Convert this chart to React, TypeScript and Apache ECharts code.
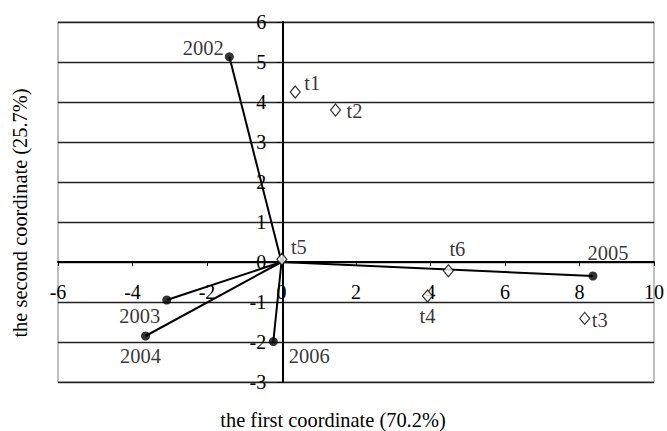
import React, { useEffect, useRef } from "react";
import * as echarts from "echarts";

const years = ["2002", "2003", "2004", "2005", "2006"];
const yearX = [-1.4, -3.08, -3.65, 8.36, -0.22];
const yearY = [5.13, -0.95, -1.85, -0.35, -1.99];
const yearLabelOffsets = [
  [-26, -9],
  [-27, 16],
  [-5, 20],
  [15, -23],
  [36, 14],
];

const terms = ["t1", "t2", "t3", "t4", "t5", "t6"];
const termX = [0.37, 1.45, 8.14, 3.92, 0.01, 4.48];
const termY = [4.25, 3.8, -1.41, -0.85, 0.07, -0.22];
const termLabelOffsets = [
  [17, -9],
  [19, 1],
  [15, 2],
  [0, 20],
  [17, -12],
  [9, -22],
];

const origin = [0, 0];
const xTicks = { min: -6, max: 10, interval: 2 };
const yTicks = { min: -3, max: 6, interval: 1 };
const xTitle = "the first coordinate (70.2%)";
const yTitle = "the second coordinate (25.7%)";

const FONT = "Liberation Serif";
const W = 667;
const H = 431;
const GRID = { left: 58, right: 11, top: 22, bottom: 49 };

export default function App() {
  const ref = useRef<HTMLDivElement>(null);
  useEffect(() => {
    if (!ref.current) return;
    const chart = echarts.init(ref.current, null, { renderer: "svg" });
    const plotW = W - GRID.left - GRID.right;
    const plotH = H - GRID.top - GRID.bottom;
    // shift axes so they sit on the zero of the other axis
    const yAxisOffset = -((0 - xTicks.min) / (xTicks.max - xTicks.min)) * plotW;
    const xAxisOffset = -((0 - yTicks.min) / (yTicks.max - yTicks.min)) * plotH;
    const lineSeries = years.map((y, i) => ({
      type: "line",
      name: y,
      data: [origin, [yearX[i], yearY[i]]],
      symbol: "none",
      lineStyle: { color: "#000", width: 2 },
      z: 3,
      silent: true,
    }));
    chart.setOption({
      animation: false,
      textStyle: { fontFamily: FONT },
      grid: {
        ...GRID,
        show: true,
        borderColor: "#808080",
        borderWidth: 1,
      },
      xAxis: {
        type: "value",
        position: "bottom",
        offset: xAxisOffset,
        min: xTicks.min,
        max: xTicks.max,
        interval: xTicks.interval,
        axisLine: { onZero: false, lineStyle: { color: "#000", width: 2 } },
        axisTick: { show: true, inside: false, length: 4, lineStyle: { color: "#000", width: 1 } },
        axisLabel: { margin: 20, fontSize: 20, color: "#000", fontFamily: FONT },
        splitLine: { show: false },
      },
      yAxis: {
        type: "value",
        position: "left",
        offset: yAxisOffset,
        min: yTicks.min,
        max: yTicks.max,
        interval: yTicks.interval,
        axisLine: { onZero: false, lineStyle: { color: "#000", width: 2 } },
        axisTick: { show: true, length: 5, lineStyle: { color: "#000", width: 1 } },
        axisLabel: { margin: 16, fontSize: 20, color: "#000", fontFamily: FONT },
        splitLine: { show: true, lineStyle: { color: "#222", width: 1.3 } },
      },
      graphic: [
        {
          type: "text",
          x: 333,
          y: 420,
          style: {
            text: xTitle,
            align: "center",
            verticalAlign: "middle",
            fontSize: 20.4,
            fontFamily: FONT,
            fill: "#000",
          },
        },
        {
          type: "text",
          x: 20,
          y: 213,
          rotation: Math.PI / 2,
          style: {
            text: yTitle,
            align: "center",
            verticalAlign: "middle",
            fontSize: 20.4,
            fontFamily: FONT,
            fill: "#000",
          },
        },
      ],
      series: [
        ...lineSeries,
        {
          type: "scatter",
          name: "years",
          data: years.map((y, i) => ({
            value: [yearX[i], yearY[i]],
            label: { offset: yearLabelOffsets[i] },
          })),
          symbol: "circle",
          symbolSize: 9,
          itemStyle: { color: "#000" },
          z: 5,
          label: {
            show: true,
            position: "inside",
            formatter: (p: any) => years[p.dataIndex],
            fontSize: 20.5,
            color: "#000",
            fontFamily: FONT,
          },
        },
        {
          type: "scatter",
          name: "terms",
          data: terms.map((t, i) => ({
            value: [termX[i], termY[i]],
            label: { offset: termLabelOffsets[i] },
          })),
          symbol: "diamond",
          symbolSize: [10, 12],
          itemStyle: { color: "#fff", borderColor: "#000", borderWidth: 1.2 },
          z: 6,
          label: {
            show: true,
            position: "inside",
            formatter: (p: any) => terms[p.dataIndex],
            fontSize: 20.5,
            color: "#000",
            fontFamily: FONT,
          },
        },
      ],
    });
    return () => chart.dispose();
  }, []);
  return (
    <div
      ref={ref}
      style={{ position: "fixed", left: 0, top: 0, width: W, height: H, background: "#fff" }}
    />
  );
}
